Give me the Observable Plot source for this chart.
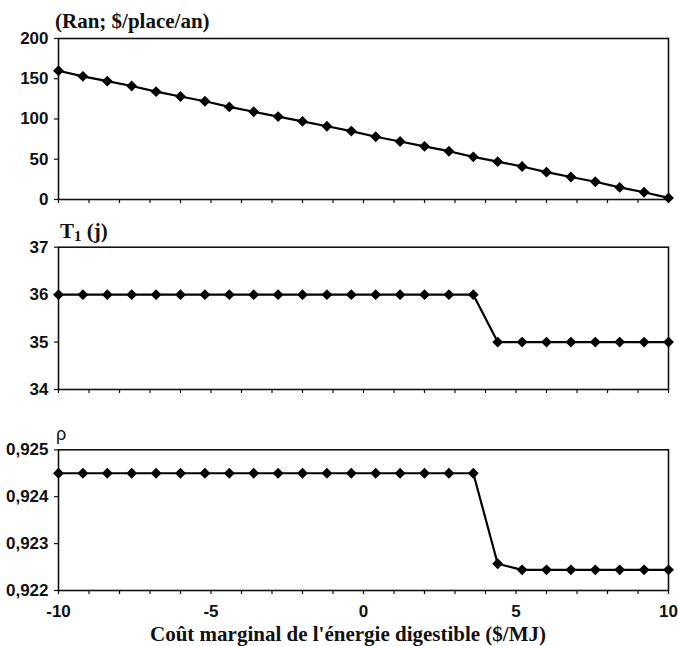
<!DOCTYPE html>
<html><head><meta charset="utf-8">
<script src="https://cdn.jsdelivr.net/npm/d3@7"></script>
<script src="https://cdn.jsdelivr.net/npm/@observablehq/plot@0.6"></script>
<style>
body{margin:0;background:#fff;}
#wrap{position:relative;width:678px;height:646px;overflow:hidden;background:#fff;}
.panel{position:absolute;left:0;}
.panel text{font-size:17px !important;font-weight:bold !important;font-family:"Liberation Sans",Arial,sans-serif !important;}
.ttl{position:absolute;font-family:"Liberation Serif","Times New Roman",serif;font-weight:bold;font-size:21px;color:#111;white-space:nowrap;line-height:1;}
.rho{position:absolute;font-family:"Liberation Sans",Arial,sans-serif;font-size:18px;color:#111;line-height:1;}
</style></head><body><div id="wrap"></div>
<script>
// Marginal cost of digestible energy ($/MJ)
const xValues = [-10,-9.2,-8.4,-7.6,-6.8,-6,-5.2,-4.4,-3.6,-2.8,-2,-1.2,-0.4,0.4,1.2,2,2.8,3.6,4.4,5.2,6,6.8,7.6,8.4,9.2,10];
// Ran ($/place/an)
const ranValues = [160,153,147,141,134,128,122,115,109,103,97,91,85,78,72,66,60,53,47,41,34,28,22,15,9,2];
// T1 (j)
const t1Values = [36,36,36,36,36,36,36,36,36,36,36,36,36,36,36,36,36,36,35,35,35,35,35,35,35,35];
// rho
const rhoValues = [0.9245,0.9245,0.9245,0.9245,0.9245,0.9245,0.9245,0.9245,0.9245,0.9245,0.9245,0.9245,0.9245,0.9245,0.9245,0.9245,0.9245,0.9245,0.92257,0.92244,0.92244,0.92244,0.92244,0.92244,0.92244,0.92244];

const xTicks = d3.range(-10, 11, 1);
const ranTicks = [0,50,100,150,200];
const t1Ticks = [34,35,36,37];
const rhoTicks = [0.922,0.923,0.924,0.925];

const wrap = document.getElementById("wrap");

function panel({values, yDomain, yTicks, yFormat, top, height, mt, mb, xLabels}) {
  const data = xValues.map((x, i) => ({x, y: values[i]}));
  const p = Plot.plot({
    width: 678, height,
    marginLeft: 58, marginRight: 10, marginTop: mt, marginBottom: mb,
    style: {fontFamily: "'Liberation Sans', Arial, sans-serif", fontSize: "17px", fontWeight: "bold", color: "#111", background: "transparent", overflow: "visible"},
    x: {domain: [-10, 10]},
    y: {domain: yDomain},
    marks: [
      Plot.axisY({ticks: yTicks, tickFormat: yFormat, tickSize: 4, tickPadding: 6, label: null, strokeWidth: 1.2}),
      Plot.axisX({ticks: xTicks, tickFormat: xLabels ? (d => d % 5 === 0 ? String(d) : "") : (() => ""), tickSize: 4, tickPadding: 10, label: null, strokeWidth: 1.2}),
      Plot.frame({stroke: "#111", strokeWidth: 1.6}),
      Plot.line(data, {x: "x", y: "y", stroke: "#000", strokeWidth: 2.2}),
      Plot.dot(data, {x: "x", y: "y", symbol: "diamond2", r: 4.9, fill: "#000", stroke: "none"})
    ]
  });
  p.classList.add("panel");
  p.style.top = top + "px";
  p.style.position = "absolute";
  wrap.appendChild(p);
}

panel({values: ranValues, yDomain: [0, 200], yTicks: ranTicks, yFormat: d => String(d), top: 0, height: 215, mt: 38, mb: 16, xLabels: false});
panel({values: t1Values, yDomain: [34, 37], yTicks: t1Ticks, yFormat: d => String(d), top: 215, height: 190, mt: 31.7, mb: 16, xLabels: false});
panel({values: rhoValues, yDomain: [0.922, 0.925], yTicks: rhoTicks, yFormat: d => d3.format(".3f")(d).replace(".", ","), top: 405, height: 241, mt: 44.3, mb: 56, xLabels: true});

function addText(cls, html, left, top, center) {
  const d = document.createElement("div");
  d.className = cls;
  d.innerHTML = html;
  d.style.left = left + "px";
  d.style.top = top + "px";
  if (center) d.style.transform = "translateX(-50%)";
  wrap.appendChild(d);
}
addText("ttl", "(Ran; $/place/an)", 55, 10.5);
addText("ttl", "T<span style='font-size:15px;position:relative;top:3px'>1</span> (j)", 60, 220.5);
addText("rho", "ρ", 56, 424.5);
addText("ttl", "Coût marginal de l'énergie digestible ($/MJ)", 348, 623.5, true);
</script></body></html>
